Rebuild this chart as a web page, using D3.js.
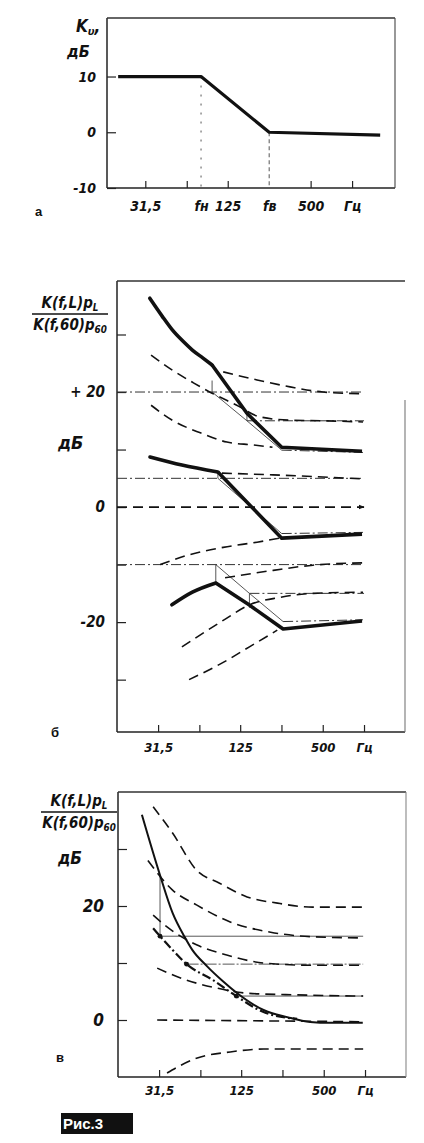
<!DOCTYPE html>
<html>
<head>
<meta charset="utf-8">
<script src="https://cdn.jsdelivr.net/npm/d3@7"></script>
<style>
  body { margin: 0; background: #fff; }
  .hand { font-family: "DejaVu Sans Condensed", "DejaVu Sans", sans-serif; font-style: italic; font-weight: bold; fill: #111; }
  .plain { font-family: "Liberation Sans", Arial, sans-serif; font-weight: bold; fill: #111; }
</style>
</head>
<body>
<div class="vis-holder"></div>
<script>
// ---- data (frequency in Hz, level in dB) ----

// panel а
var aTickFreqs = [31.5, 63, 125, 500, 1000];
var aLabelFreqs = [31.5, 80, 125, 250, 500, 1000];
var aLabels = ["31,5", "fн", "125", "fв", "500", "Гц"];
var aYTicks = [10, 0, -10];
var aMarkers = [[80, 10], [250, 0]];           // f_н, f_в guide lines (freq, top level)
var aKu = [[20, 10], [80, 10], [250, 0], [1600, -0.5]];

// panels б and в share the frequency axis
var bcTickFreqs = [31.5, 63, 125, 250, 500, 1000];
var bcLabelFreqs = [31.5, 125, 500, 1000];
var bcLabels = ["31,5", "125", "500", "Гц"];

// panel б
var bYTicks = [30, 20, 10, 0, -10, -20, -30];
var bYLabelVals = [20, 0, -20];
var bYLabelText = ["+ 20", "0", "-20"];
// bold curves: smooth low-frequency arc, then straight legs
var bBoldArcs = [
  [[27.4, 36.3], [33.7, 33.2], [40, 30.8], [47.5, 28.9], [56, 27.3], [67, 25.9], [78, 24.7]],
  [[27.5, 8.7], [47, 7.3], [86, 6.1]],
  [[39.7, -17], [56, -14.8], [83, -13.2]]
];
var bBoldLegs = [
  [[78, 24.7], [140, 16.3], [251, 10.4], [967, 9.7]],
  [[86, 6.1], [251, -5.4], [967, -4.7]],
  [[83, -13.2], [145, -17], [257, -21.2], [967, -19.8]]
];
var bDashed = [
  [[94, 23.5], [166, 22.1], [289, 20.9], [502, 20], [983, 19.7]],
  [[28, 26.4], [40, 23.8], [57, 21.6], [78, 19.8], [118, 17.7], [173, 15.7], [289, 15.1], [502, 15], [983, 14.8]],
  [[28, 17.7], [40, 15.1], [64, 12.9], [100, 11.3], [155, 10.8], [215, 10.4]],
  [[92, 5.9], [217, 5.6], [983, 4.9]],
  [[32.6, -10], [53, -8.3], [94, -7], [166, -6.1], [243, -5.4]],
  [[97, -12.3], [218, -11], [424, -10.1], [983, -9.7]],
  [[47, -24.3], [94, -19.7], [146, -17], [243, -15.7], [424, -15], [983, -14.8]],
  [[53, -30], [94, -27], [146, -24.3], [233, -21.4]]
];
var bZero = [[15.8, 0], [1000, 0]];
var bDashDot = [
  [[15.8, 20], [1000, 20]],
  [[140, 15], [1000, 15]],
  [[251, 9.9], [983, 9.5]],
  [[15.8, 5], [1000, 5]],
  [[251, -4.6], [983, -4.4]],
  [[15.8, -10], [1000, -10]],
  [[146, -15], [1000, -15]],
  [[257, -19.9], [983, -19.6]]
];
var bSteps = [
  [[78, 22], [78, 20], [140, 15], [140, 16.5]],
  [[140, 15], [251, 9.9]],
  [[86, 6], [86, 5], [251, -4.6]],
  [[83, -13.2], [83, -10], [146, -15], [146, -17.5]],
  [[146, -15], [257, -19.9]]
];

// panel в
var cYTicks = [30, 20, 10, 0];
var cYLabelVals = [20, 0];
var cYLabelText = ["20", "0"];
var cSolid = [[23.6, 36], [32, 25.4], [39.5, 18.8], [48.3, 14.6], [55, 12.3], [70, 9.5], [92, 6.8], [117, 4.7],
              [182, 1.75], [271, 0.5], [398, -0.35], [555, -0.5], [963, -0.5]];
var cDashed = [
  [[28.5, 37.4], [39.5, 32.8], [59, 26.3], [87, 24], [138, 21.6], [230, 20.5], [416, 19.8], [969, 19.8]],
  [[26.1, 28], [39.5, 22.8], [59, 20.2], [104, 17.2], [205, 15.4], [416, 14.6], [969, 14.4]],
  [[28.5, 18.4], [37, 16.1], [59, 13.2], [98, 11.4], [182, 10], [416, 9.6], [969, 9.6]],
  [[30.5, 9.1], [50, 7], [83, 5.6], [138, 4.7], [320, 4.4], [969, 4.2]],
  [[30.5, 0], [969, -0.3]],
  [[36, -9.3], [59, -6.7], [104, -5.6], [182, -5.1], [969, -5.1]]
];
var cDashDot = [[28.5, 16.1], [32, 14.7], [39.5, 12.3], [50, 9.8], [78, 7], [115, 4.2], [182, 1.4], [320, 0.2]];
var cDots = [[32, 14.7], [50, 9.8], [115, 4.2]];
var cThin = [
  [[32, 25.4], [32, 14.7], [969, 14.7]],
  [[50, 9.8], [969, 9.8]],
  [[115, 4.2], [969, 4.2]]
];

// ---- drawing ----
var width = 424;
var height = 1143;

var svg = d3.select(".vis-holder")
            .append("svg")
            .attr("width", width)
            .attr("height", height);

svg.append("rect").attr("width", width).attr("height", height).attr("fill", "#fff");

// arrow head for the 0 dB line in panel б
svg.append("defs").append("marker")
   .attr("id", "arrow")
   .attr("viewBox", "0 0 10 10")
   .attr("refX", 9).attr("refY", 5)
   .attr("markerWidth", 6).attr("markerHeight", 6)
   .attr("markerUnits", "userSpaceOnUse")
   .attr("orient", "auto")
   .append("path")
   .attr("d", "M0,1 L10,5 L0,9 Z")
   .attr("fill", "#111");

function makeLine(x, y, curve) {
  return d3.line()
           .x(function(d) { return x(d[0]); })
           .y(function(d) { return y(d[1]); })
           .curve(curve || d3.curveLinear);
}

// frame, ticks and tick labels for one panel
function drawFrame(g, x, y, opt) {
  var x0 = x.range()[0], x1 = x.range()[1];
  var y0 = y.range()[0], y1 = y.range()[1];

  g.append("line").attr("x1", x0).attr("x2", x0).attr("y1", y1).attr("y2", y0)
   .attr("stroke", "#222").attr("stroke-width", 1.5);
  g.append("line").attr("x1", x0).attr("x2", x1).attr("y1", y0).attr("y2", y0)
   .attr("stroke", "#222").attr("stroke-width", 1.5);
  g.append("line").attr("x1", x0).attr("x2", x1).attr("y1", y1).attr("y2", y1)
   .attr("stroke", "#333").attr("stroke-width", 1.3);
  g.append("line").attr("x1", x1).attr("x2", x1).attr("y1", opt.rightTop || y1).attr("y2", y0)
   .attr("stroke", opt.rightColor || "#444").attr("stroke-width", 1.1);

  // x tick marks (inside the frame)
  var xTicks = g.append("g")
                .attr("transform", "translate(0," + y0 + ")")
                .call(d3.axisBottom(x).tickValues(opt.xTicks).tickSizeInner(-7).tickSizeOuter(0).tickFormat(""));
  xTicks.select(".domain").remove();
  xTicks.selectAll("line").attr("stroke", "#222").attr("stroke-width", 1.2).attr("y2", -7);

  // x tick labels
  var xLab = g.append("g")
              .attr("transform", "translate(0," + (y0 + opt.labelGap) + ")")
              .call(d3.axisBottom(x).tickValues(opt.xLabelVals).tickSize(0)
                      .tickFormat(function(d, i) { return opt.xLabels[i]; }));
  xLab.select(".domain").remove();
  xLab.selectAll("text").attr("class", "hand").attr("font-size", opt.fs).attr("fill", "#111");

  // y tick marks (inside the frame)
  var yTicks = g.append("g")
                .attr("transform", "translate(" + x0 + ",0)")
                .call(d3.axisLeft(y).tickValues(opt.yTicks).tickSizeInner(-9).tickSizeOuter(0).tickFormat(""));
  yTicks.select(".domain").remove();
  yTicks.selectAll("line").attr("stroke", "#222").attr("stroke-width", 1.2);

  // y tick labels
  var yLab = g.append("g")
              .attr("transform", "translate(" + (x0 - opt.yGap) + ",0)")
              .call(d3.axisLeft(y).tickValues(opt.yLabelVals).tickSize(0)
                      .tickFormat(function(d, i) { return opt.yLabels[i]; }));
  yLab.select(".domain").remove();
  yLab.selectAll("text").attr("class", "hand").attr("font-size", opt.yfs).attr("fill", "#111");
}

// the fraction  K(f,L)p_L / K(f,60)p_60
function drawFraction(g, cx, yTop, fs) {
  var num = g.append("text").attr("class", "hand").attr("font-size", fs)
             .attr("text-anchor", "middle").attr("x", cx).attr("y", yTop);
  num.append("tspan").text("K(f,L)p");
  num.append("tspan").attr("font-size", fs * 0.65).attr("dy", 3).text("L");
  g.append("line").attr("x1", cx - 38).attr("x2", cx + 38)
   .attr("y1", yTop + 6).attr("y2", yTop + 6)
   .attr("stroke", "#111").attr("stroke-width", 1.6);
  var den = g.append("text").attr("class", "hand").attr("font-size", fs)
             .attr("text-anchor", "middle").attr("x", cx).attr("y", yTop + 22);
  den.append("tspan").text("K(f,60)p");
  den.append("tspan").attr("font-size", fs * 0.65).attr("dy", 3).text("60");
}

/* ---------- panel а ---------- */
var ax = d3.scaleLog().domain([16.6, 2050]).range([107, 395]);
var ay = d3.scaleLinear().domain([-10, 20.5]).range([188, 18]);
var ga = svg.append("g");

drawFrame(ga, ax, ay, {
  xTicks: aTickFreqs, xLabelVals: aLabelFreqs, xLabels: aLabels, labelGap: 10, fs: 14,
  yTicks: aYTicks, yLabelVals: aYTicks, yLabels: ["10", "0", "-10"], yGap: 8, yfs: 14
});

// f_н / f_в guide lines
ga.selectAll(".marker")
  .data(aMarkers)
  .enter()
  .append("line")
  .attr("x1", function(d) { return ax(d[0]); })
  .attr("x2", function(d) { return ax(d[0]); })
  .attr("y1", function(d) { return ay(d[1]); })
  .attr("y2", ay(-10))
  .attr("stroke", "#555").attr("stroke-width", 1)
  .attr("stroke-dasharray", function(d, i) { return i === 0 ? "2,7" : "4,3"; });

ga.append("path")
  .attr("d", makeLine(ax, ay)(aKu))
  .attr("fill", "none").attr("stroke", "#111").attr("stroke-width", 3.2)
  .attr("stroke-linejoin", "round");

var kuText = ga.append("text").attr("class", "hand").attr("font-size", 17).attr("x", 76).attr("y", 32);
kuText.append("tspan").text("K");
kuText.append("tspan").attr("font-size", 11).attr("dy", 3).text("υ");
kuText.append("tspan").attr("dy", -3).text(",");
ga.append("text").attr("class", "hand").attr("font-size", 16).attr("x", 67).attr("y", 57).text("дБ");
ga.append("text").attr("class", "plain").attr("font-size", 13).attr("x", 35).attr("y", 216).text("а");

/* ---------- panel б ---------- */
var bx = d3.scaleLog().domain([15.8, 1990]).range([117, 405]);
var by = d3.scaleLinear().domain([-39.1, 39.3]).range([732, 281]);
var gb = svg.append("g");

drawFrame(gb, bx, by, {
  xTicks: bcTickFreqs, xLabelVals: bcLabelFreqs, xLabels: bcLabels, labelGap: 8, fs: 13,
  yTicks: bYTicks, yLabelVals: bYLabelVals, yLabels: bYLabelText, yGap: 9, yfs: 15,
  rightTop: 400, rightColor: "#777"
});

gb.selectAll(".dashdot")
  .data(bDashDot)
  .enter()
  .append("path")
  .attr("d", makeLine(bx, by))
  .attr("fill", "none").attr("stroke", "#333").attr("stroke-width", 1)
  .attr("stroke-dasharray", "10,3,2,3");

gb.selectAll(".step")
  .data(bSteps)
  .enter()
  .append("path")
  .attr("d", makeLine(bx, by))
  .attr("fill", "none").attr("stroke", "#444").attr("stroke-width", 0.9);

gb.append("path")
  .attr("d", makeLine(bx, by)(bZero))
  .attr("fill", "none").attr("stroke", "#111").attr("stroke-width", 1.6)
  .attr("stroke-dasharray", "10,6")
  .attr("marker-end", "url(#arrow)");

gb.selectAll(".dashed")
  .data(bDashed)
  .enter()
  .append("path")
  .attr("d", makeLine(bx, by, d3.curveMonotoneX))
  .attr("fill", "none").attr("stroke", "#111").attr("stroke-width", 1.6)
  .attr("stroke-dasharray", "10,6");

// bold curves: smooth arc + straight legs
gb.selectAll(".boldArc")
  .data(bBoldArcs)
  .enter()
  .append("path")
  .attr("d", makeLine(bx, by, d3.curveMonotoneX))
  .attr("fill", "none").attr("stroke", "#111").attr("stroke-width", 3.6)
  .attr("stroke-linecap", "round");

gb.selectAll(".boldLeg")
  .data(bBoldLegs)
  .enter()
  .append("path")
  .attr("d", makeLine(bx, by))
  .attr("fill", "none").attr("stroke", "#111").attr("stroke-width", 3.6)
  .attr("stroke-linejoin", "round");

drawFraction(gb, 70, 308, 15);
gb.append("text").attr("class", "hand").attr("font-size", 18).attr("x", 58).attr("y", 449).text("дБ");
gb.append("text").attr("class", "plain").attr("font-size", 13).attr("x", 51).attr("y", 737).text("б");

/* ---------- panel в ---------- */
var cx = d3.scaleLog().domain([15.8, 1990]).range([118, 406]);
var cy = d3.scaleLinear().domain([-10, 40]).range([1077, 792]);
var gc = svg.append("g");

drawFrame(gc, cx, cy, {
  xTicks: bcTickFreqs, xLabelVals: bcLabelFreqs, xLabels: bcLabels, labelGap: 6, fs: 13,
  yTicks: cYTicks, yLabelVals: cYLabelVals, yLabels: cYLabelText, yGap: 11, yfs: 17,
  rightColor: "#888"
});

gc.selectAll(".thin")
  .data(cThin)
  .enter()
  .append("path")
  .attr("d", makeLine(cx, cy))
  .attr("fill", "none").attr("stroke", "#444").attr("stroke-width", 0.9)
  .attr("stroke-dasharray", function(d, i) { return i === 1 ? "12,2,2,2" : null; });

gc.selectAll(".dashed")
  .data(cDashed)
  .enter()
  .append("path")
  .attr("d", makeLine(cx, cy, d3.curveMonotoneX))
  .attr("fill", "none").attr("stroke", "#111").attr("stroke-width", 1.6)
  .attr("stroke-dasharray", "10,6");

gc.append("path")
  .attr("d", makeLine(cx, cy, d3.curveMonotoneX)(cDashDot))
  .attr("fill", "none").attr("stroke", "#111").attr("stroke-width", 2.2)
  .attr("stroke-dasharray", "9,3,2,3");

gc.append("path")
  .attr("d", makeLine(cx, cy, d3.curveMonotoneX)(cSolid))
  .attr("fill", "none").attr("stroke", "#111").attr("stroke-width", 2);

gc.selectAll(".dot")
  .data(cDots)
  .enter()
  .append("circle")
  .attr("cx", function(d) { return cx(d[0]); })
  .attr("cy", function(d) { return cy(d[1]); })
  .attr("r", 2.4)
  .attr("fill", "#111");

drawFraction(gc, 79, 806, 15);
gc.append("text").attr("class", "hand").attr("font-size", 17).attr("x", 58).attr("y", 864).text("дБ");
gc.append("text").attr("class", "plain").attr("font-size", 13).attr("x", 56).attr("y", 1062).text("в");

// figure caption box
svg.append("rect").attr("x", 61).attr("y", 1113).attr("width", 72).attr("height", 21).attr("fill", "#111");
svg.append("text").attr("x", 63).attr("y", 1129)
   .attr("font-family", "'Liberation Sans Narrow', 'Liberation Sans', Arial, sans-serif")
   .attr("font-weight", "bold").attr("font-size", 15).attr("fill", "#fff")
   .text("Рис.3");
</script>
</body>
</html>
